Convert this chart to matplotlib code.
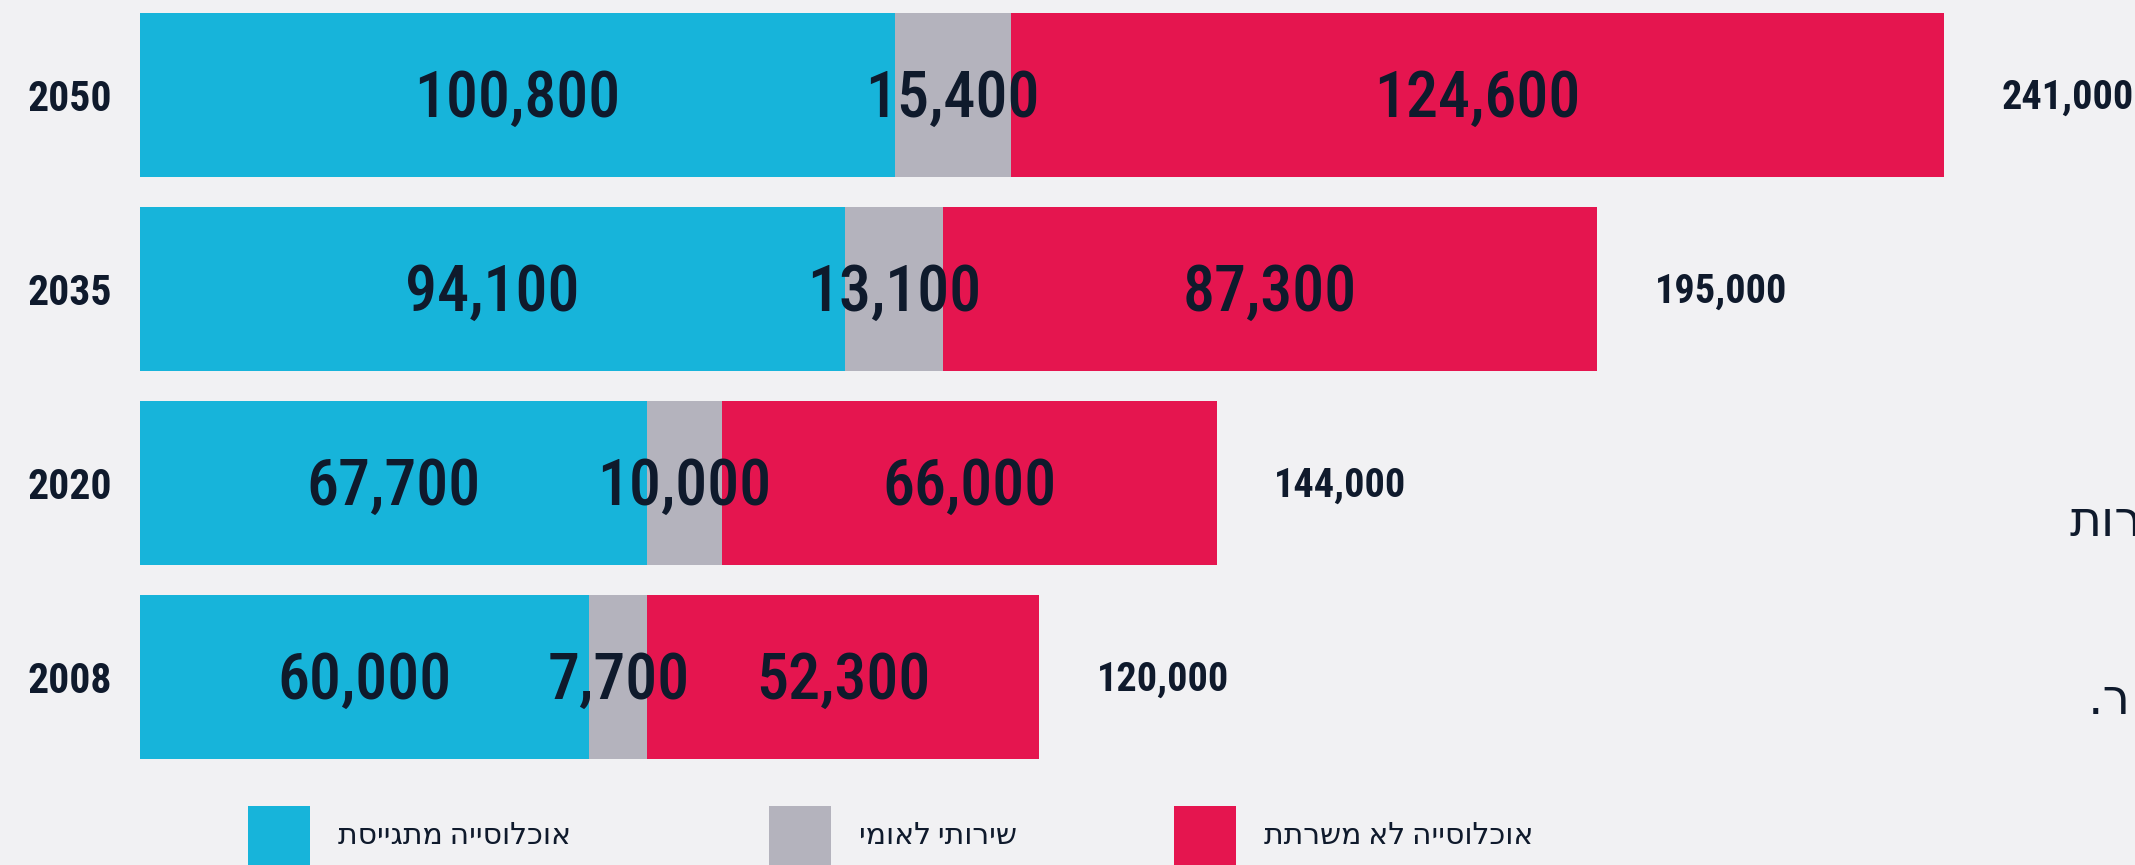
import matplotlib
matplotlib.use('Agg')
import matplotlib.pyplot as plt
from matplotlib import font_manager
from matplotlib.patches import Rectangle

# data
years = ["2008", "2020", "2035", "2050"]
drafted = [60000, 67700, 94100, 100800]
national_service = [7700, 10000, 13100, 15400]
not_serving = [52300, 66000, 87300, 124600]
totals = [120000, 144000, 195000, 241000]

series_names = ["אוכלוסייה מתגייסת", "שירותי לאומי", "אוכלוסייה לא משרתת"]
colors = ["#17b4da", "#b4b3bd", "#e5154f"]
text_color = "#0f1a2c"
bg_color = "#f1f1f3"

# fragments of text cut off at the right edge of the picture
side_fragments = ["רות", "ר."]


def pick_condensed():
    names = {f.name for f in font_manager.fontManager.ttflist}
    for n in ["Liberation Sans Narrow", "Roboto Condensed", "DejaVu Sans Condensed"]:
        if n in names:
            return n, "normal"
    return "DejaVu Sans", "condensed"


cond, stretch = pick_condensed()
fam = [cond, "DejaVu Sans"]

W, H, dpi = 2135, 865, 100
fig = plt.figure(figsize=(W / dpi, H / dpi), dpi=dpi, facecolor=bg_color)
ax = fig.add_axes([140 / W, 0, 1 - 140 / W, 1])
ax.set_facecolor(bg_color)

ypos = list(range(len(years)))
bar_h = 0.845
left = [0] * len(years)
for vals, c in zip([drafted, national_service, not_serving], colors):
    bars = ax.barh(ypos, vals, left=left, height=bar_h, color=c, linewidth=0)
    for b, v in zip(bars, vals):
        ax.annotate(f"{v:,}", xy=(b.get_x() + b.get_width() / 2, b.get_y() + b.get_height() / 2),
                    xytext=(0, -3), textcoords="offset points",
                    ha="center", va="center", fontsize=46, fontweight="medium",
                    family=fam, fontstretch=stretch, color=text_color)
    left = [l + v for l, v in zip(left, vals)]

for y, l, t in zip(ypos, left, totals):
    ax.annotate(f"{t:,}", xy=(l, y), xytext=(89, -2), textcoords="offset points",
                ha="center", va="center", fontsize=29, fontweight="semibold",
                family=fam, fontstretch=stretch, color=text_color)

ax.set_xlim(0, 266300)
ax.set_ylim(-0.969, 3.49)
ax.set_yticks(ypos)
ax.set_yticklabels(years, fontsize=30, fontweight="semibold", family=fam,
                   fontstretch=stretch, color=text_color)
ax.tick_params(axis="y", length=0, pad=20)
ax.set_xticks([])
for s in ax.spines.values():
    s.set_visible(False)

# legend drawn by hand so the items sit where they do in the picture
legend_x = [248, 769, 1174]
for x, name, c in zip(legend_x, series_names, colors):
    fig.patches.append(Rectangle((x / W, (H - 868) / H), 62 / W, 62 / H,
                                 transform=fig.transFigure, color=c, linewidth=0))
    # Hebrew needs reversing since matplotlib draws left to right
    fig.text((x + 90) / W, (H - 836) / H, name[::-1], fontsize=21.5,
             family=fam, fontstretch=stretch, color=text_color,
             ha="left", va="center")

fig.text(2070 / W, (H - 522) / H, side_fragments[0][::-1], fontsize=35,
         family=["DejaVu Sans"], color=text_color, ha="left", va="center")
fig.text(2088 / W, (H - 700) / H, side_fragments[1][::-1], fontsize=35,
         family=["DejaVu Sans"], color=text_color, ha="left", va="center")

fig.savefig("out.png", dpi=dpi, facecolor=bg_color)
